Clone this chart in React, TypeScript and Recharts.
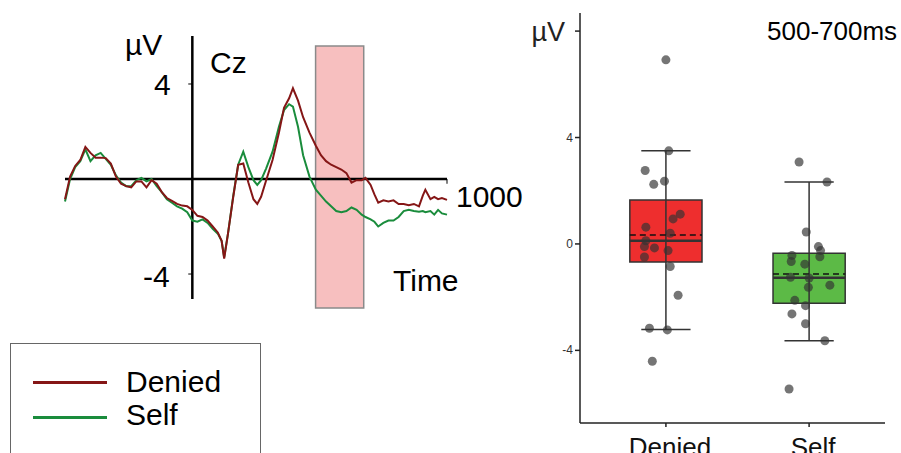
import React from 'react';
import {
  ComposedChart,
  LineChart,
  Line,
  Scatter,
  XAxis,
  YAxis,
  ReferenceArea,
  ReferenceLine,
} from 'recharts';

const FONT = '"Liberation Sans", Arial, sans-serif';

// ERP waveform at Cz (ms, µV)
const times = [
  -500, -480, -460, -440, -420, -400, -380, -360, -340, -320, -300, -280, -260, -240, -220, -200,
  -180, -160, -140, -120, -100, -80, -60, -40, -20, 0, 20, 40, 60, 80, 100, 115, 125, 140, 160,
  180, 200, 220, 240, 255, 270, 290, 315, 340, 360, 380, 395, 415, 435, 460, 485, 505, 525, 545,
  565, 585, 605, 625, 645, 665, 680, 700, 715, 730, 750, 770, 790, 810, 830, 850, 870, 890, 905,
  915, 935, 950, 965, 980, 1000,
];
const deniedWave = [
  -0.85, 0.1, 0.55, 0.8, 1.35, 1.1, 0.9, 0.9, 0.88, 0.65, 0.1, -0.2, -0.3, -0.35, -0.1, -0.1,
  -0.35, -0.05, -0.2, -0.55, -0.8, -0.92, -1.05, -1.12, -1.15, -1.3, -1.55, -1.6, -1.75, -2.0,
  -2.25, -2.6, -3.35, -2.3, -0.8, 0.6, 0.65, -0.15, -0.85, -1.05, -0.75, -0.05, 0.8, 1.95, 3.0,
  3.4, 3.82, 3.3, 2.6, 1.95, 1.4, 1.0, 0.75, 0.6, 0.5, 0.4, 0.25, -0.15, -0.05, -0.05, 0.05,
  -0.25, -0.65, -1.0, -0.9, -0.95, -0.9, -1.05, -1.05, -1.1, -1.05, -1.15, -0.7, -0.45, -0.85,
  -0.75, -0.85, -0.8, -0.88,
];
const selfWave = [
  -0.95, 0.0, 0.5, 0.75, 1.25, 0.75, 1.0, 1.1, 0.85, 0.6, 0.15, -0.15, -0.3, -0.3, -0.05, 0.05,
  -0.1, 0.0, -0.3, -0.55, -0.85, -1.0, -1.15, -1.25, -1.4, -1.75, -1.8, -1.7, -1.85, -2.1, -2.3,
  -2.6, -3.3, -2.3, -0.75, 0.6, 1.15, 0.5, -0.05, -0.25, -0.05, 0.45, 1.15, 2.2, 2.9, 3.15, 3.05,
  2.2, 1.0, 0.1, -0.45, -0.7, -0.95, -1.15, -1.35, -1.4, -1.35, -1.2, -1.3, -1.5, -1.6, -1.7,
  -1.8, -2.0, -1.85, -1.75, -1.75, -1.6, -1.35, -1.3, -1.35, -1.38, -1.35, -1.4, -1.35, -1.5,
  -1.3, -1.45, -1.5,
];

// box plot, mean amplitude 500-700ms
const groups = ['Denied', 'Self'];
const boxFills = ['#ee2e2e', '#5cba46'];
const q1 = [-0.68, -2.23];
const medians = [0.12, -1.27];
const q3 = [1.65, -0.35];
const means = [0.34, -1.13];
const whiskerLow = [-3.22, -3.64];
const whiskerHigh = [3.5, 2.33];
const deniedPoints = [
  6.92, 3.5, 2.76, 2.24, 2.36, 1.12, 0.94, 0.63, 0.4, 0.12, -0.1, -0.15, -0.25, -0.49, -0.85,
  -1.93, -3.17, -3.23, -4.41,
];
const deniedJitter = [
  0.0, 0.02, -0.145, -0.085, -0.01, 0.1, 0.05, -0.14, 0.03, -0.14, -0.15, -0.08, 0.015, -0.15,
  0.03, 0.085, -0.115, 0.01, -0.095,
];
const selfPoints = [
  3.08, 2.33, 0.45, -0.1, -0.25, -0.43, -0.48, -0.66, -0.76, -1.25, -1.28, -1.55, -1.63, -2.12,
  -2.32, -2.63, -3.0, -3.64, -5.45,
];
const selfJitter = [
  -0.07, 0.125, -0.02, 0.065, 0.08, -0.12, 0.075, -0.125, -0.03, -0.13, 0.0, 0.145, -0.005, -0.1,
  -0.025, -0.12, -0.025, 0.11, -0.14,
];

const waveRows = times.map((t, i) => ({ t, denied: deniedWave[i], self: selfWave[i] }));
const pointRows = [
  ...deniedPoints.map((v, i) => ({ x: 1 + deniedJitter[i], y: v })),
  ...selfPoints.map((v, i) => ({ x: 2 + selfJitter[i], y: v })),
];

const BOX_HALF = 0.252;
const CAP_HALF = 0.172;

const abs = (left: number, top: number, extra: React.CSSProperties = {}): React.CSSProperties => ({
  position: 'absolute',
  left,
  top,
  fontFamily: FONT,
  lineHeight: 1,
  whiteSpace: 'nowrap',
  ...extra,
});

function GroupTick(props: any) {
  const { x, y, payload } = props;
  return (
    <text x={x + 4} y={y + 27} textAnchor="middle" fontSize={26} fill="#111" fontFamily={FONT}>
      {groups[payload.value - 1]}
    </text>
  );
}

function ValueTick(props: any) {
  const { x, y, payload } = props;
  if (payload.value === 8) {
    return (
      <text x={x - 8} y={y + 10} textAnchor="end" fontSize={27} fill="#222" fontFamily={FONT}>
        µV
      </text>
    );
  }
  return (
    <text x={x} y={y + 4} textAnchor="end" fontSize={12} fill="#333" fontFamily={FONT}>
      {payload.value}
    </text>
  );
}

export default function App() {
  return (
    <div style={{ position: 'absolute', left: 0, top: 0, width: 901, height: 453, overflow: 'hidden', background: '#fff' }}>
      {/* ERP waveform */}
      <div style={{ position: 'absolute', left: 0, top: 0 }}>
        <LineChart width={540} height={453} data={waveRows} margin={{ top: 36, right: 93, bottom: 145, left: 65 }}>
          <XAxis type="number" dataKey="t" domain={[-500, 1000]} hide />
          <YAxis type="number" domain={[-5.43, 6.02]} hide allowDataOverflow />
          <ReferenceLine segment={[{ x: -500, y: 0 }, { x: 1000, y: 0 }]} stroke="#000" strokeWidth={2.5} />
          <ReferenceLine segment={[{ x: 1000, y: 0 }, { x: 1000, y: -0.2 }]} stroke="#000" strokeWidth={1} />
          <ReferenceLine segment={[{ x: 0, y: -5.05 }, { x: 0, y: 6.02 }]} stroke="#000" strokeWidth={2.5} />
          <ReferenceLine segment={[{ x: -16, y: 4 }, { x: 0, y: 4 }]} stroke="#000" strokeWidth={1} />
          <ReferenceLine segment={[{ x: -16, y: -4 }, { x: 0, y: -4 }]} stroke="#000" strokeWidth={1} />
          <Line dataKey="self" stroke="#1a8c3c" strokeWidth={2} dot={false} isAnimationActive={false} />
          <Line dataKey="denied" stroke="#851616" strokeWidth={2} dot={false} isAnimationActive={false} />
          <ReferenceArea x1={484} x2={673} y1={-5.43} y2={5.6} fill="#f08080" fillOpacity={0.5} stroke="#8a8a8a" strokeWidth={1.5} />
        </LineChart>
      </div>
      <div style={abs(125, 30, { fontSize: 30 })}>µV</div>
      <div style={abs(210, 48, { fontSize: 30 })}>Cz</div>
      <div style={abs(154, 70, { fontSize: 30 })}>4</div>
      <div style={abs(143, 262, { fontSize: 30 })}>-4</div>
      <div style={abs(456, 182, { fontSize: 30 })}>1000</div>
      <div style={abs(393, 266, { fontSize: 30 })}>Time</div>

      {/* legend */}
      <div style={{ position: 'absolute', left: 10, top: 343, width: 249, height: 130, border: '1px solid #666' }} />
      <div style={{ position: 'absolute', left: 33, top: 381, width: 74, height: 3, background: '#851616' }} />
      <div style={{ position: 'absolute', left: 33, top: 416, width: 74, height: 3, background: '#1a8c3c' }} />
      <div style={abs(126, 367, { fontSize: 30 })}>Denied</div>
      <div style={abs(126, 400, { fontSize: 30 })}>Self</div>

      {/* box plot */}
      <div style={{ position: 'absolute', left: 520, top: 0 }}>
        <ComposedChart width={381} height={453} margin={{ top: 13, right: 16, bottom: 0, left: 0 }}>
          <XAxis
            type="number"
            dataKey="x"
            domain={[0.4, 2.53]}
            ticks={[1, 2]}
            tick={<GroupTick />}
            tickSize={4}
            stroke="#222"
            strokeWidth={1.5}
            height={30}
            allowDataOverflow
          />
          <YAxis
            type="number"
            dataKey="y"
            domain={[-6.73, 8.68]}
            ticks={[-4, 0, 4, 8]}
            tick={<ValueTick />}
            tickSize={5}
            stroke="#222"
            strokeWidth={1.5}
            width={60}
            allowDataOverflow
          />
          {groups.map((g, i) => (
            <ReferenceLine key={g + 'w'} segment={[{ x: i + 1, y: whiskerLow[i] }, { x: i + 1, y: whiskerHigh[i] }]} stroke="#333" strokeWidth={1.5} />
          ))}
          {groups.map((g, i) => (
            <ReferenceLine key={g + 'hi'} segment={[{ x: i + 1 - CAP_HALF, y: whiskerHigh[i] }, { x: i + 1 + CAP_HALF, y: whiskerHigh[i] }]} stroke="#333" strokeWidth={1.5} />
          ))}
          {groups.map((g, i) => (
            <ReferenceLine key={g + 'lo'} segment={[{ x: i + 1 - CAP_HALF, y: whiskerLow[i] }, { x: i + 1 + CAP_HALF, y: whiskerLow[i] }]} stroke="#333" strokeWidth={1.5} />
          ))}
          {groups.map((g, i) => (
            <ReferenceArea key={g + 'box'} x1={i + 1 - BOX_HALF} x2={i + 1 + BOX_HALF} y1={q1[i]} y2={q3[i]} fill={boxFills[i]} fillOpacity={1} stroke="#333" strokeWidth={1.5} />
          ))}
          {groups.map((g, i) => (
            <ReferenceLine key={g + 'med'} segment={[{ x: i + 1 - BOX_HALF, y: medians[i] }, { x: i + 1 + BOX_HALF, y: medians[i] }]} stroke="#333" strokeWidth={2.5} />
          ))}
          {groups.map((g, i) => (
            <ReferenceLine key={g + 'mean'} segment={[{ x: i + 1 - BOX_HALF, y: means[i] }, { x: i + 1 + BOX_HALF, y: means[i] }]} stroke="#111" strokeWidth={1.5} strokeDasharray="6 4" />
          ))}
          <Scatter
            data={pointRows}
            isAnimationActive={false}
            shape={(p: any) => <circle cx={p.cx} cy={p.cy} r={4.5} fill="#333" fillOpacity={0.68} />}
          />
        </ComposedChart>
      </div>
      <div style={abs(767, 18, { fontSize: 26 })}>500-700ms</div>
    </div>
  );
}
